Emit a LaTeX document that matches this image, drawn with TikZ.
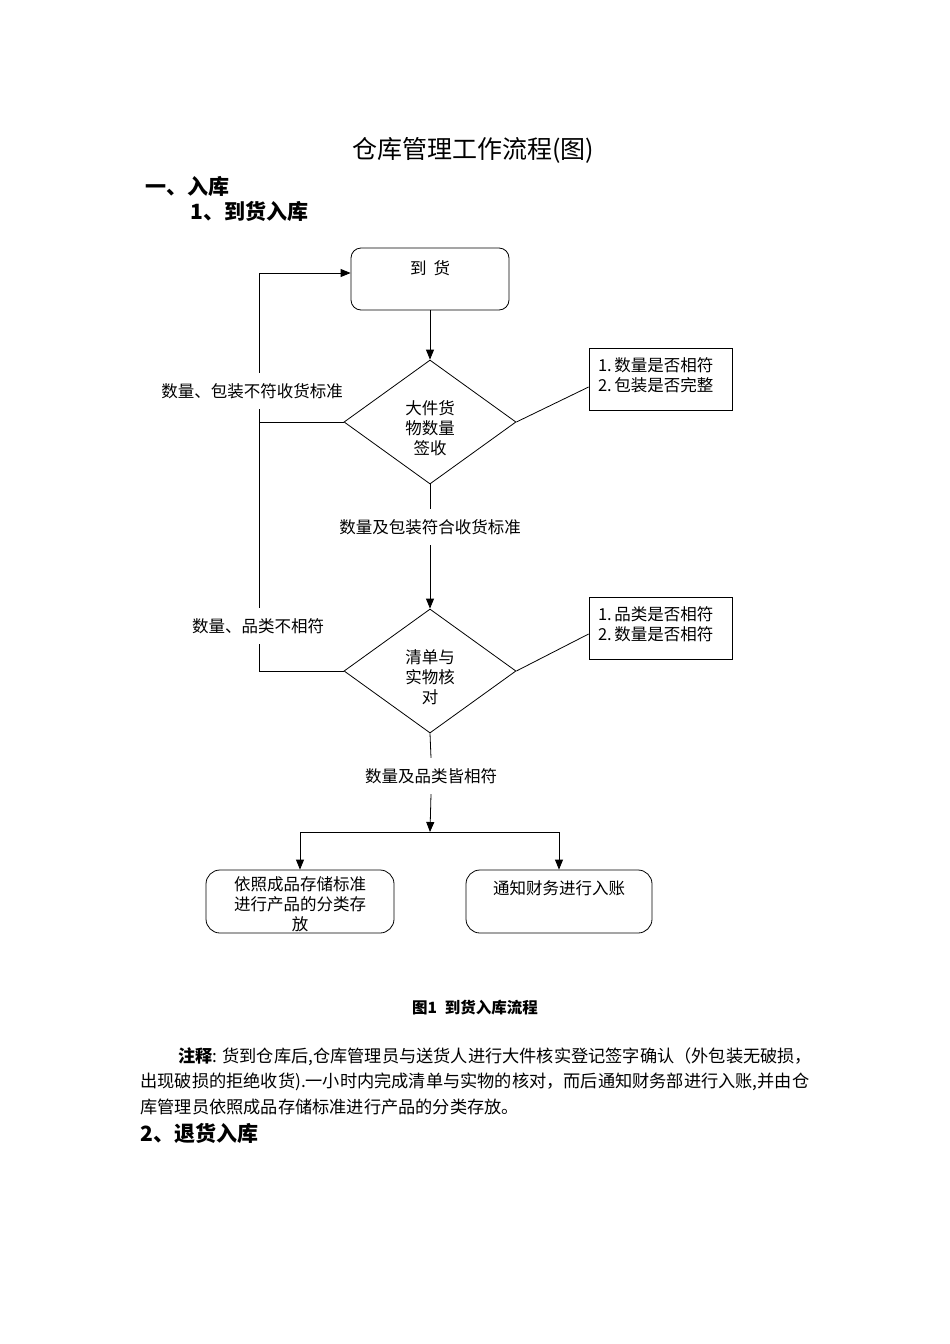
\documentclass[tikz,border=0pt]{standalone}
\usepackage{fontspec}
\setmainfont{Noto Sans CJK SC}
\usetikzlibrary{shapes.geometric,arrows.meta,calc}
\begin{document}
\begin{tikzpicture}[x=1pt,y=-1pt,line width=0.8pt,
  fs/.style={font=\fontsize{16.5}{20}\selectfont},
  arr/.style={-{Triangle[length=10pt,width=8pt]}},
  lab/.style={fs,inner xsep=2pt,inner ysep=10pt},
  head/.style={font=\bfseries\fontsize{21}{24}\selectfont,inner xsep=0pt,anchor=west},
  para/.style={font=\fontsize{17.2}{20}\selectfont,inner xsep=0pt,anchor=west},
  notebox/.style={draw,minimum width=143pt,minimum height=62pt},
  notetxt/.style={fs,align=left,text width=125pt},
  decision/.style={draw,diamond,minimum width=172pt,minimum height=124pt,inner sep=0pt},
  endbox/.style={draw,rounded corners=14pt,minimum height=63pt}]
\useasboundingbox (0,0) rectangle (950,1344);

% headings
\node[font=\fontsize{25}{28}\selectfont] (title) at (473,150) {仓库管理工作流程(图)};
\node[head] (h1) at (145,186) {一、入库};
\node[head] (h2) at (190,211) {1、到货入库};

% flowchart nodes
\node[draw,rounded corners=10pt,minimum width=158pt,minimum height=62pt] (arrive) at (430,279) {};
\node[fs] (arrivetxt) at (430,268) {到\hspace{7pt}货};
\node[decision] (d1) at (430,422) {};
\node[fs,align=center] (d1txt) at (430,428) {大件货\\物数量\\签收};
\node[decision] (d2) at (430,671) {};
\node[fs,align=center] (d2txt) at (430,677) {清单与\\实物核\\对};
\node[notebox] (n1) at (660.5,379) {};
\node[notetxt] (n1txt) at (660.5,375) {1.\,数量是否相符\\2.\,包装是否完整};
\node[notebox] (n2) at (660.5,628) {};
\node[notetxt] (n2txt) at (660.5,624) {1.\,品类是否相符\\2.\,数量是否相符};

\node[lab] (la) at (252,391) {数量、包装不符收货标准};
\node[lab] (lb) at (258,626) {数量、品类不相符};
\node[lab] (lc) at (430,527) {数量及包装符合收货标准};
\node[lab] (ld) at (431,776) {数量及品类皆相符};

\node[endbox,minimum width=188pt] (bl) at (300,901.5) {};
\node[fs,align=center,anchor=north] (bltxt) at (300,873) {依照成品存储标准\\进行产品的分类存\\放};
\node[endbox,minimum width=186pt] (brr) at (559,901.5) {};
\node[fs] (brtxt) at (559,888) {通知财务进行入账};

\coordinate (lp) at (259,273);
\coordinate (br) at (430,832);

% connectors
\draw[arr] (arrive.south) -- (d1.north);
\draw (d1.south) -- (lc.north);
\draw[arr] (lc.south) -- (d2.north);
\draw (d2.south) -- (ld.north);
\draw[arr] (ld.south) -- (br);
\draw[arr] (br) -| (bl.north);
\draw[arr] (br) -| (brr.north);
\draw (d1.east) -- ([yshift=-8pt]n1.west);
\draw (d2.east) -- ([yshift=-6pt]n2.west);
\draw (d1.west) -- (d1.west -| lp);
\draw (d2.west) -| (lp |- lb.south);
\draw (lp |- lb.north) -- (lp |- la.south);
\draw[arr] (lp |- la.north) -- (lp) -- (lp -| arrive.west);

% caption and notes
\node[font=\bfseries\fontsize{15.5}{18}\selectfont] (cap) at (475,1008) {图1\hspace{8pt}到货入库流程};
\node[para] (p1) at (178,1057) {\textbf{注释}:\hspace{5pt}货到仓库后,仓库管理员与送货人进行大件核实登记签字确认（外包装无破损，};
\node[para] (p2) at (140,1082) {出现破损的拒绝收货).一小时内完成清单与实物的核对，而后通知财务部进行入账,并由仓};
\node[para] (p3) at (140,1107) {库管理员依照成品存储标准进行产品的分类存放。};
\node[head] (h3) at (140,1133) {2、退货入库};
\end{tikzpicture}
\end{document}
